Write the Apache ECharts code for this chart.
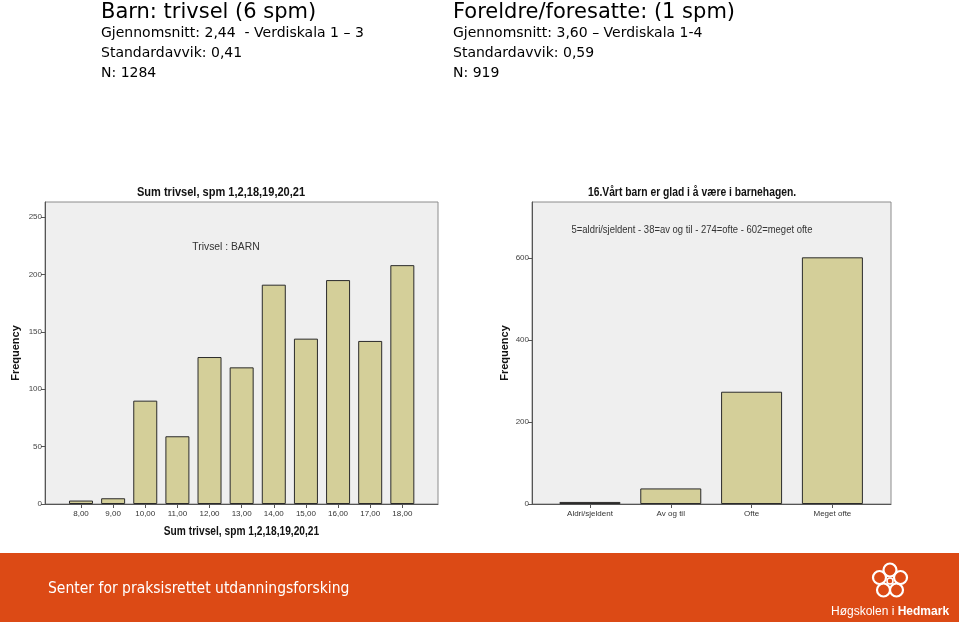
<!DOCTYPE html>
<html>
<head>
<meta charset="utf-8">
<script src="https://cdn.jsdelivr.net/npm/echarts@6/dist/echarts.min.js"></script>
<style>
html,body{margin:0;padding:0;background:#fff;}
#c{width:959px;height:622px;}
</style>
</head>
<body>
<div id="c"></div>
<script>
// ---- Data ----
const barnScores = [8, 9, 10, 11, 12, 13, 14, 15, 16, 17, 18];
const barnFreq = [3, 5, 90, 59, 128, 119, 191, 144, 195, 142, 208];
const barnYTicks = [0, 50, 100, 150, 200, 250];

const parentCats = ['Aldri/sjeldent', 'Av og til', 'Ofte', 'Meget ofte'];
const parentFreq = [5, 38, 274, 602];
const parentYTicks = [0, 200, 400, 600];

const headLeft = ['Barn: trivsel (6 spm)', 'Gjennomsnitt: 2,44  - Verdiskala 1 \u2013 3', 'Standardavvik: 0,41', 'N: 1284'];
const headRight = ['Foreldre/foresatte: (1 spm)', 'Gjennomsnitt: 3,60 \u2013 Verdiskala 1-4', 'Standardavvik: 0,59', 'N: 919'];

// ---- Chart ----
const chart = echarts.init(document.getElementById('c'));
const headFont = '"DejaVu Sans", sans-serif';
const footFont = '"DejaVu Sans Condensed", "DejaVu Sans", sans-serif';
const chartFont = '"Liberation Sans", Arial, sans-serif';
const parentPos = parentCats.map((c, i) => i + 1);

function headTexts(x, lines) {
  const out = [];
  out.push({type: 'text', left: x, top: 2, style: {text: lines[0], font: '21px ' + headFont, fill: '#000'}});
  for (let i = 1; i < lines.length; i++) {
    out.push({type: 'text', left: x, top: 26 + (i - 1) * 20, style: {text: lines[i], font: '14px ' + headFont, fill: '#000'}});
  }
  return out;
}
function label(text, x, y, font, sx, color) {
  return {type: 'text', x: x, y: y, scaleX: sx,
    style: {text: text, font: font, fill: color, align: 'center', verticalAlign: 'middle',
            textAlign: 'center', textVerticalAlign: 'middle'}};
}

const barStyle = {color: '#d4cf99', borderColor: '#2b2b2b', borderWidth: 1};
const axisLineStyle = {color: '#555', width: 1};

const option = {
  animation: false,
  backgroundColor: '#fff',
  grid: [
    {left: 45, top: 202, width: 393, height: 302, show: true, backgroundColor: '#efefef', borderColor: '#8c8c8c', borderWidth: 1},
    {left: 532, top: 202, width: 359, height: 302, show: true, backgroundColor: '#efefef', borderColor: '#8c8c8c', borderWidth: 1}
  ],
  xAxis: [
    {type: 'value', gridIndex: 0, min: 6.88, max: 19.11,
     axisLine: {show: true, onZero: false, lineStyle: axisLineStyle},
     axisTick: {show: true, length: 4, customValues: barnScores, lineStyle: axisLineStyle},
     axisLabel: {customValues: barnScores, fontFamily: chartFont, fontSize: 8, color: '#333', margin: 6,
       formatter: v => v.toFixed(2).replace('.', ',')},
     splitLine: {show: false}},
    {type: 'value', gridIndex: 1, min: 0.283, max: 4.725,
     axisLine: {show: true, onZero: false, lineStyle: axisLineStyle},
     axisTick: {show: true, length: 4, customValues: parentPos, lineStyle: axisLineStyle},
     axisLabel: {customValues: parentPos, fontFamily: chartFont, fontSize: 8, color: '#333', margin: 6,
       formatter: v => parentCats[Math.round(v) - 1] || ''},
     splitLine: {show: false}}
  ],
  yAxis: [
    {type: 'value', gridIndex: 0, min: 0, max: 263,
     name: 'Frequency', nameLocation: 'middle', nameGap: 24, nameRotate: 90,
     nameTextStyle: {fontFamily: chartFont, fontSize: 11, fontWeight: 'bold', color: '#111'},
     axisLine: {show: true, lineStyle: axisLineStyle},
     axisTick: {show: true, length: 4, customValues: barnYTicks, lineStyle: axisLineStyle},
     axisLabel: {customValues: barnYTicks, fontFamily: chartFont, fontSize: 8, color: '#444', margin: 3},
     splitLine: {show: false}},
    {type: 'value', gridIndex: 1, min: 0, max: 737,
     name: 'Frequency', nameLocation: 'middle', nameGap: 22, nameRotate: 90,
     nameTextStyle: {fontFamily: chartFont, fontSize: 11, fontWeight: 'bold', color: '#111'},
     axisLine: {show: true, lineStyle: axisLineStyle},
     axisTick: {show: true, length: 4, customValues: parentYTicks, lineStyle: axisLineStyle},
     axisLabel: {customValues: parentYTicks, fontFamily: chartFont, fontSize: 8, color: '#444', margin: 3},
     splitLine: {show: false}}
  ],
  series: [
    {type: 'bar', xAxisIndex: 0, yAxisIndex: 0, barWidth: 24, itemStyle: barStyle,
     data: barnScores.map((s, i) => [s, barnFreq[i]])},
    {type: 'bar', xAxisIndex: 1, yAxisIndex: 1, barWidth: 61, itemStyle: barStyle,
     data: parentPos.map((p, i) => [p, parentFreq[i]])}
  ],
  graphic: [
    ...headTexts(101, headLeft),
    ...headTexts(453, headRight),
    label('Sum trivsel, spm 1,2,18,19,20,21', 221, 193, 'bold 12px ' + chartFont, 0.92, '#111'),
    label('16.V\u00e5rt barn er glad i \u00e5 v\u00e6re i barnehagen.', 692, 193, 'bold 12px ' + chartFont, 0.86, '#111'),
    label('Trivsel : BARN', 226, 247, '11px ' + chartFont, 0.94, '#333'),
    label('5=aldri/sjeldent - 38=av og til - 274=ofte - 602=meget ofte', 692, 230, '11px ' + chartFont, 0.86, '#333'),
    label('Sum trivsel, spm 1,2,18,19,20,21', 241.5, 532, 'bold 12px ' + chartFont, 0.85, '#111'),
    {type: 'rect', left: 0, top: 553, shape: {width: 959, height: 69}, style: {fill: '#dc4a15'}, z: -1},
    {type: 'text', left: 48, top: 581, style: {text: 'Senter for praksisrettet utdanningsforsking', font: '15.5px ' + footFont, fill: '#fff'}},
    {type: 'text', left: 831, top: 606, style: {
      text: '{a|H\u00f8gskolen i }{b|Hedmark}',
      rich: {a: {font: '12px ' + chartFont, fill: '#fff', color: '#fff'}, b: {font: 'bold 12px ' + chartFont, fill: '#fff', color: '#fff'}}
    }},
    {type: 'group', x: 890, y: 581, children: [
      {type: 'circle', shape: {cx: 0, cy: -11, r: 6.5}, style: {fill: 'none', stroke: '#fff', lineWidth: 2.2}},
      {type: 'circle', shape: {cx: 10.5, cy: -3.5, r: 6.5}, style: {fill: 'none', stroke: '#fff', lineWidth: 2.2}},
      {type: 'circle', shape: {cx: 6.5, cy: 9, r: 6.5}, style: {fill: 'none', stroke: '#fff', lineWidth: 2.2}},
      {type: 'circle', shape: {cx: -6.5, cy: 9, r: 6.5}, style: {fill: 'none', stroke: '#fff', lineWidth: 2.2}},
      {type: 'circle', shape: {cx: -10.5, cy: -3.5, r: 6.5}, style: {fill: 'none', stroke: '#fff', lineWidth: 2.2}},
      {type: 'circle', shape: {cx: 0, cy: 0, r: 3}, style: {fill: 'none', stroke: '#fff', lineWidth: 1.5}}
    ]}
  ]
};
chart.setOption(option);
</script>
</body>
</html>
